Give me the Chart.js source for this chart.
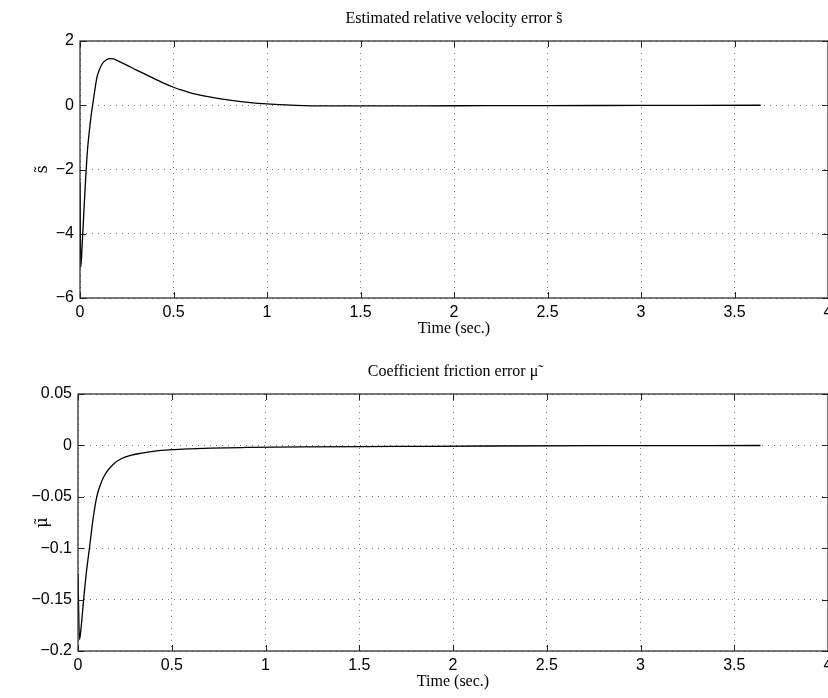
<!DOCTYPE html>
<html lang="en">

<head>
  <meta charset="UTF-8">
  <title>Velocity and friction error</title>
  <script src="https://cdn.jsdelivr.net/npm/chart.js@4/dist/chart.umd.min.js"></script>
  <style>
    html, body { margin: 0; padding: 0; background: #fff; }
    .page { position: relative; width: 828px; height: 698px; overflow: hidden; }
    canvas { position: absolute; left: 0; }
  </style>
</head>

<body>
  <div class="page">
    <canvas id="vel-chart" width="860" height="345" style="top:0"></canvas>
    <canvas id="fric-chart" width="860" height="345" style="top:353px"></canvas>
  </div>

  <script>
    // estimated relative velocity error s~
    const velTime = [0, 0.004, 0.012, 0.02, 0.03, 0.04, 0.05, 0.06, 0.07, 0.08, 0.09, 0.10, 0.12, 0.14, 0.16,
      0.18, 0.20, 0.25, 0.30, 0.35, 0.40, 0.45, 0.50, 0.55, 0.60, 0.70, 0.80, 0.90, 1.00, 1.10, 1.20, 1.40,
      1.60, 2.00, 2.50, 3.00, 3.64];
    const velError = [-2.4, -5.05, -4.3, -3.4, -2.3, -1.4, -0.8, -0.3, 0.1, 0.5, 0.85, 1.05, 1.3, 1.41, 1.45,
      1.44, 1.39, 1.25, 1.1, 0.96, 0.82, 0.68, 0.56, 0.46, 0.37, 0.25, 0.16, 0.09, 0.04, 0.01, -0.01, -0.02,
      -0.02, -0.015, -0.01, -0.005, 0];

    // coefficient friction error mu~
    const fricTime = [0, 0.008, 0.015, 0.03, 0.045, 0.061, 0.08, 0.10, 0.12, 0.136, 0.16, 0.19, 0.23, 0.28,
      0.34, 0.40, 0.50, 0.60, 0.71, 0.90, 1.20, 1.70, 2.20, 2.80, 3.64];
    const fricError = [-0.125, -0.189, -0.18, -0.15, -0.123, -0.1, -0.072, -0.05, -0.038, -0.031, -0.024,
      -0.018, -0.013, -0.0097, -0.0075, -0.0058, -0.0042, -0.0033, -0.0026, -0.002, -0.0014, -0.001,
      -0.0006, -0.0003, -0.0001];

    const timeTicks = [0, 0.5, 1, 1.5, 2, 2.5, 3, 3.5, 4];

    const sans = 'Liberation Sans, Arial, sans-serif';
    const serif = 'Liberation Serif, Times New Roman, serif';

    function fmt(v) {
      const s = String(Number(v.toFixed(3)));
      return s.replace('-', '\u2212');
    }

    // matlab style box with inward tick marks
    const boxPlugin = {
      id: 'box',
      afterDraw(chart) {
        const ctx = chart.ctx;
        const a = chart.chartArea;
        const xs = chart.scales.x, ys = chart.scales.y;
        ctx.save();
        ctx.strokeStyle = '#222';
        ctx.lineWidth = 1.2;
        ctx.strokeRect(a.left, a.top, a.right - a.left, a.bottom - a.top);
        ctx.lineWidth = 1;
        ctx.beginPath();
        xs.ticks.forEach(t => {
          const px = Math.round(xs.getPixelForValue(t.value)) + 0.5;
          ctx.moveTo(px, a.bottom); ctx.lineTo(px, a.bottom - 6);
          ctx.moveTo(px, a.top); ctx.lineTo(px, a.top + 6);
        });
        ys.ticks.forEach(t => {
          const py = Math.round(ys.getPixelForValue(t.value)) + 0.5;
          ctx.moveTo(a.left, py); ctx.lineTo(a.left + 6, py);
          ctx.moveTo(a.right, py); ctx.lineTo(a.right - 6, py);
        });
        ctx.stroke();
        ctx.restore();
      }
    };

    function makeChart(id, times, values, title, yLabel, yMin, yMax, yStep, leftW) {
      const ctx = document.getElementById(id).getContext('2d');
      const points = times.map((t, i) => ({ x: t, y: values[i] }));
      return new Chart(ctx, {
        type: 'line',
        data: {
          datasets: [{
            data: points,
            borderColor: '#000',
            borderWidth: 1.3,
            pointRadius: 0,
            fill: false,
            cubicInterpolationMode: 'monotone'
          }]
        },
        options: {
          responsive: false,
          animation: false,
          layout: { padding: { left: 0, right: 32, top: 0, bottom: 0 } },
          plugins: {
            legend: { display: false },
            tooltip: { enabled: false }
          },
          scales: {
            x: {
              type: 'linear',
              min: 0,
              max: 4,
              afterBuildTicks: s => { s.ticks = timeTicks.map(v => ({ value: v })); },
              afterFit: s => { s.height = 47; },
              ticks: {
                color: '#000',
                font: { family: sans, size: 16 },
                padding: 5,
                maxRotation: 0,
                autoSkip: false,
                callback: v => fmt(v)
              },
              grid: { color: '#777', drawTicks: false, lineWidth: 1 },
              border: { display: false, dash: [1, 5] },
              title: {
                display: true,
                text: 'Time (sec.)',
                color: '#000',
                font: { family: serif, size: 16 },
                padding: { top: 0, bottom: 7 }
              }
            },
            // top axis only carries the plot title, centred over the plot box
            top: {
              type: 'linear',
              axis: 'x',
              position: 'top',
              min: 0,
              max: 4,
              afterFit: s => { s.height = 41; },
              ticks: { display: false },
              grid: { display: false, drawTicks: false },
              border: { display: false },
              title: {
                display: true,
                text: title,
                color: '#000',
                font: { family: serif, size: 16 },
                padding: { top: 9, bottom: 0 }
              }
            },
            y: {
              min: yMin,
              max: yMax,
              afterFit: s => { s.width = leftW; },
              ticks: {
                stepSize: yStep,
                color: '#000',
                font: { family: sans, size: 16 },
                padding: 6,
                callback: v => fmt(v)
              },
              grid: { color: '#777', drawTicks: false, lineWidth: 1 },
              border: { display: false, dash: [1, 5] },
              title: {
                display: true,
                text: yLabel,
                color: '#000',
                font: { family: 'DejaVu Serif, serif', size: 16 },
                padding: { top: 33, bottom: 0 }
              }
            }
          }
        },
        plugins: [boxPlugin]
      });
    }

    makeChart('vel-chart', velTime, velError, 'Estimated relative velocity error s\u0303', 's\u0303', -6, 2, 2, 80);
    makeChart('fric-chart', fricTime, fricError, 'Coefficient friction error \u03bc\u0303', '\u03bc\u0303', -0.2, 0.05, 0.05, 78);
  </script>
</body>
</html>
